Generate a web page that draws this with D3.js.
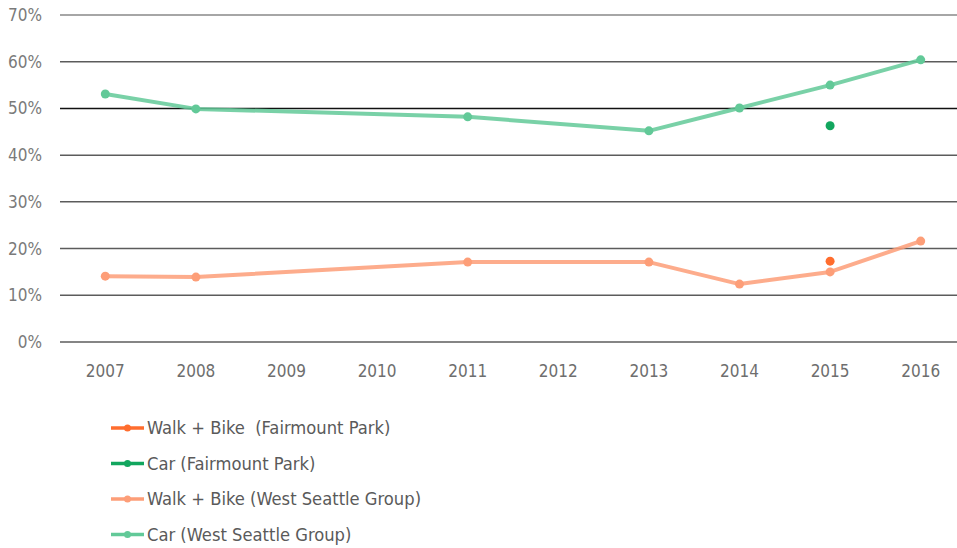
<!DOCTYPE html>
<html>
<head>
<meta charset="utf-8">
<script src="https://cdn.jsdelivr.net/npm/d3@7"></script>
<style>
	body { margin: 0; background: #fff; }
	text { font-family: "Liberation Sans Narrow", "DejaVu Sans Condensed", sans-serif; }
</style>
</head>
<body>
<div id="chart"></div>
<script>
const years = [2007, 2008, 2009, 2010, 2011, 2012, 2013, 2014, 2015, 2016];
const yTicks = [0, 10, 20, 30, 40, 50, 60, 70];

// West Seattle Group series (gaps = no survey)
const carWsgYears = [2007, 2008, 2011, 2013, 2014, 2015, 2016];
const carWsg = [53.1, 49.9, 48.2, 45.2, 50.1, 55.0, 60.4];
const walkWsgYears = [2007, 2008, 2011, 2013, 2014, 2015, 2016];
const walkWsg = [14.1, 13.9, 17.1, 17.1, 12.4, 15.0, 21.6];

// Fairmount Park, single year
const carFpYears = [2015];
const carFp = [46.3];
const walkFpYears = [2015];
const walkFp = [17.3];

const seriesNames = ["Walk + Bike  (Fairmount Park)", "Car (Fairmount Park)", "Walk + Bike (West Seattle Group)", "Car (West Seattle Group)"];
const seriesColors = ["#ff6d2e", "#12a65e", "#fd9e78", "#62c998"];

var svgWidth = 957;
var svgHeight = 548;

var svg = d3.select("#chart")
	.append("svg")
	.attr("width", svgWidth)
	.attr("height", svgHeight);

var x = d3.scaleBand()
	.domain(years)
	.range([60, 966]);

var y = d3.scaleLinear()
	.domain([0, 70])
	.range([342, 15]);

function cx(yr) { return x(yr) + x.bandwidth() / 2; }

// gridlines
svg.append("g")
	.selectAll("line")
	.data(yTicks)
	.enter().append("line")
	.attr("x1", 60)
	.attr("x2", svgWidth)
	.attr("y1", function(d) { return y(d); })
	.attr("y2", function(d) { return y(d); })
	.attr("stroke", function(d) { return d == 50 ? "#111" : (d == 70 ? "#888" : "#5c5c5c"); })
	.attr("stroke-width", 1.5);

// y labels
svg.append("g")
	.selectAll("text")
	.data(yTicks)
	.enter().append("text")
	.attr("x", 42)
	.attr("y", function(d) { return y(d); })
	.attr("dy", "0.35em")
	.attr("text-anchor", "end")
	.attr("fill", "#7a7a7a")
	.style("font-size", "17px")
	.text(function(d) { return d + "%"; });

// x labels
svg.append("g")
	.selectAll("text")
	.data(years)
	.enter().append("text")
	.attr("x", function(d) { return cx(d); })
	.attr("y", 377)
	.attr("text-anchor", "middle")
	.attr("fill", "#6e6e6e")
	.style("font-size", "17px")
	.text(function(d) { return d; });

function drawSeries(yrs, vals, color, opacity) {
	var pts = yrs.map(function(yr, i) { return {yr: yr, v: vals[i]}; });
	var line = d3.line()
		.x(function(d) { return cx(d.yr); })
		.y(function(d) { return y(d.v); });
	if (pts.length > 1) {
		svg.append("path")
			.datum(pts)
			.attr("fill", "none")
			.attr("stroke", color)
			.attr("stroke-opacity", opacity)
			.attr("stroke-width", 4)
			.attr("stroke-linejoin", "round")
			.attr("d", line);
	}
	svg.append("g")
		.selectAll("circle")
		.data(pts)
		.enter().append("circle")
		.attr("r", 4.5)
		.attr("cx", function(d) { return cx(d.yr); })
		.attr("cy", function(d) { return y(d.v); })
		.attr("fill", color);
}

drawSeries(carWsgYears, carWsg, seriesColors[3], 0.85);
drawSeries(walkWsgYears, walkWsg, seriesColors[2], 0.85);
drawSeries(carFpYears, carFp, seriesColors[1], 1);
drawSeries(walkFpYears, walkFp, seriesColors[0], 1);

// legend
var legend = svg.append("g")
	.selectAll("g")
	.data(seriesNames)
	.enter().append("g")
	.attr("transform", function(d, i) { return "translate(111," + (428 + i * 35.5) + ")"; });

legend.append("line")
	.attr("x1", 0)
	.attr("x2", 33)
	.attr("stroke", function(d, i) { return seriesColors[i]; })
	.attr("stroke-width", 3.5);

legend.append("circle")
	.attr("cx", 16.5)
	.attr("r", 3.5)
	.attr("fill", function(d, i) { return seriesColors[i]; });

legend.append("text")
	.attr("x", 36)
	.attr("dy", "0.35em")
	.attr("fill", "#5a5a5a")
	.style("font-size", "18.2px")
	.style("white-space", "pre")
	.text(function(d) { return d; });
</script>
</body>
</html>
